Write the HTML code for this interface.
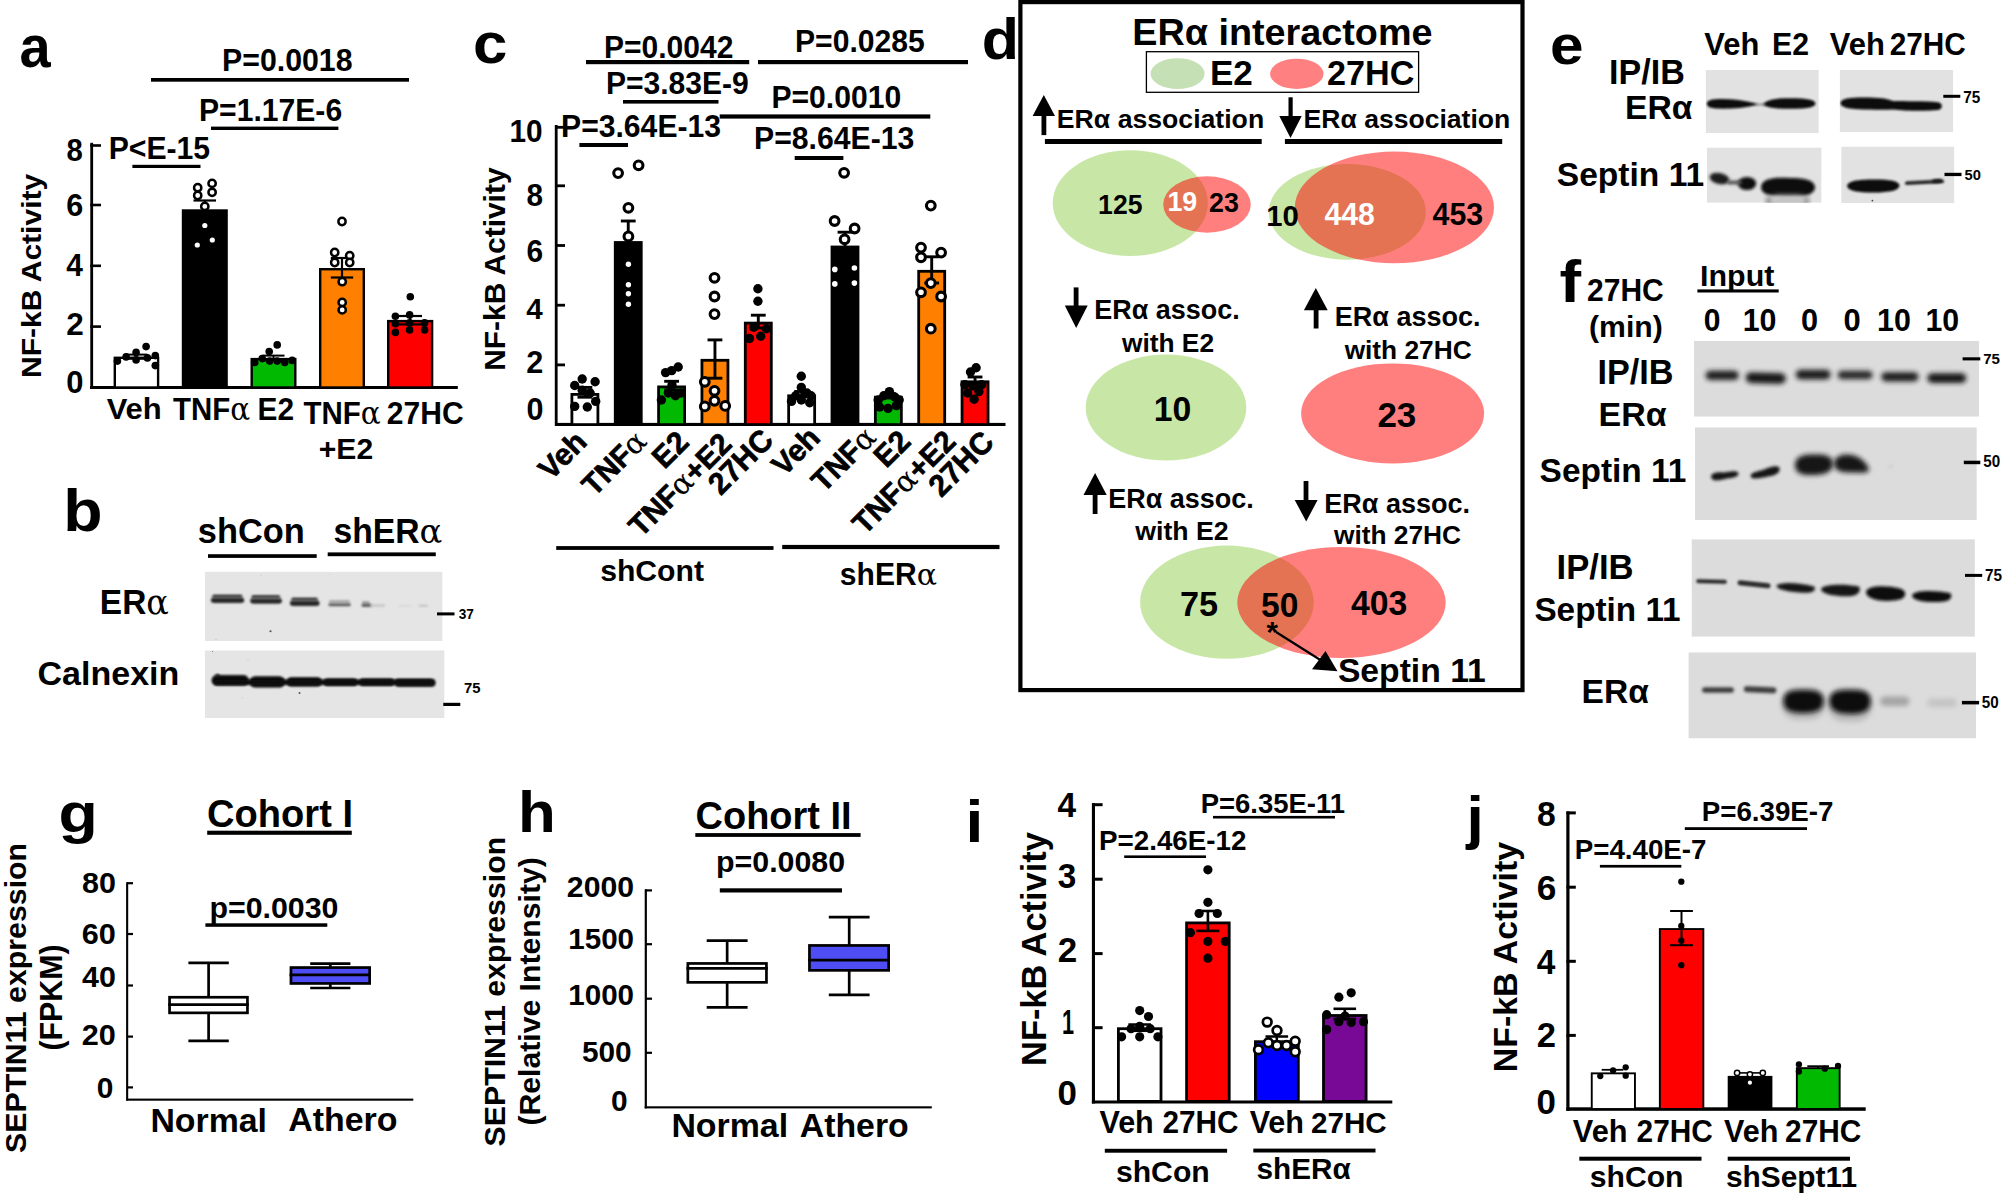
<!DOCTYPE html>
<html><head><meta charset="utf-8"><title>Figure</title>
<style>
html,body{margin:0;padding:0;background:#fff;}
body{width:2002px;height:1199px;overflow:hidden;}
svg{display:block;}
text{font-family:"Liberation Sans",Arial,Helvetica,sans-serif;font-weight:bold;}
.sy{font-family:"DejaVu Serif","Liberation Serif",serif;font-weight:normal;}
</style></head><body>
<svg width="2002" height="1199" viewBox="0 0 2002 1199">
<defs>
<filter id="bl1" x="-40%" y="-300%" width="180%" height="700%"><feGaussianBlur stdDeviation="1.1"/></filter>
<filter id="bl2" x="-40%" y="-300%" width="180%" height="700%"><feGaussianBlur stdDeviation="1.8"/></filter>
<filter id="bl3" x="-40%" y="-300%" width="180%" height="700%"><feGaussianBlur stdDeviation="2.6"/></filter>
<filter id="bl05" x="-40%" y="-300%" width="180%" height="700%"><feGaussianBlur stdDeviation="0.85"/></filter>
<filter id="bl0" x="-40%" y="-300%" width="180%" height="700%"><feGaussianBlur stdDeviation="0.6"/></filter>
</defs>
<rect width="2002" height="1199" fill="#fff"/>
<g id="pa">
<text x="19.52" y="67.00" font-size="59.26" textLength="31.19" lengthAdjust="spacingAndGlyphs" fill="#000">a</text>
<text x="222.03" y="70.70" font-size="31.03" textLength="130.47" lengthAdjust="spacingAndGlyphs" fill="#000">P=0.0018</text>
<rect x="151.00" y="78.00" width="258.00" height="3.70" fill="#000"/>
<text x="199.04" y="120.60" font-size="30.86" textLength="143.12" lengthAdjust="spacingAndGlyphs" fill="#000">P=1.17E-6</text>
<rect x="211.00" y="126.60" width="127.40" height="3.40" fill="#000"/>
<text x="108.64" y="158.60" font-size="30.94" textLength="101.52" lengthAdjust="spacingAndGlyphs" fill="#000">P&lt;E-15</text>
<rect x="132.40" y="164.80" width="68.10" height="3.20" fill="#000"/>
<rect x="90.00" y="386.00" width="367.80" height="3.00" fill="#000"/>
<rect x="90.30" y="142.80" width="2.80" height="246.20" fill="#000"/>
<rect x="90.30" y="325.30" width="10.70" height="2.60" fill="#000"/>
<rect x="90.30" y="264.50" width="10.70" height="2.60" fill="#000"/>
<rect x="90.30" y="203.70" width="10.70" height="2.60" fill="#000"/>
<rect x="90.30" y="144.20" width="10.70" height="2.60" fill="#000"/>
<text x="66.52" y="160.60" font-size="31.71" textLength="16.29" lengthAdjust="spacingAndGlyphs" fill="#000">8</text>
<text x="66.33" y="216.00" font-size="31.71" textLength="16.97" lengthAdjust="spacingAndGlyphs" fill="#000">6</text>
<text x="66.25" y="276.10" font-size="32.17" textLength="16.63" lengthAdjust="spacingAndGlyphs" fill="#000">4</text>
<text x="66.30" y="335.00" font-size="31.71" textLength="17.50" lengthAdjust="spacingAndGlyphs" fill="#000">2</text>
<text x="66.36" y="392.60" font-size="31.71" textLength="17.21" lengthAdjust="spacingAndGlyphs" fill="#000">0</text>
<text transform="translate(41.40,377.95) rotate(-90)" font-size="27.86" textLength="204.18" lengthAdjust="spacingAndGlyphs" fill="#000">NF-kB Activity</text>
<rect x="114.80" y="357.80" width="43.30" height="29.70" fill="#fff" stroke="#000" stroke-width="2.4"/>
<rect x="183.00" y="210.50" width="43.60" height="177.00" fill="#000" stroke="#000" stroke-width="2.4"/>
<rect x="251.70" y="359.10" width="43.60" height="28.40" fill="#00b900" stroke="#000" stroke-width="2.4"/>
<rect x="320.20" y="269.20" width="43.60" height="118.30" fill="#ff8000" stroke="#000" stroke-width="2.4"/>
<rect x="388.20" y="321.10" width="43.90" height="66.40" fill="#ff0000" stroke="#000" stroke-width="2.4"/>
<line x1="136.40" y1="354.60" x2="136.40" y2="358.80" stroke="#000" stroke-width="2" stroke-linecap="butt"/>
<line x1="125.40" y1="354.60" x2="147.40" y2="354.60" stroke="#000" stroke-width="2" stroke-linecap="butt"/>
<line x1="125.40" y1="358.80" x2="147.40" y2="358.80" stroke="#000" stroke-width="2" stroke-linecap="butt"/>
<line x1="204.80" y1="200.50" x2="204.80" y2="210.00" stroke="#000" stroke-width="2.2" stroke-linecap="butt"/>
<line x1="193.50" y1="200.50" x2="216.00" y2="200.50" stroke="#000" stroke-width="2.2" stroke-linecap="butt"/>
<line x1="273.50" y1="355.60" x2="273.50" y2="360.50" stroke="#000" stroke-width="2" stroke-linecap="butt"/>
<line x1="262.50" y1="355.60" x2="284.50" y2="355.60" stroke="#000" stroke-width="2" stroke-linecap="butt"/>
<line x1="262.50" y1="360.50" x2="284.50" y2="360.50" stroke="#000" stroke-width="2" stroke-linecap="butt"/>
<line x1="342.00" y1="258.00" x2="342.00" y2="277.50" stroke="#000" stroke-width="2.2" stroke-linecap="butt"/>
<line x1="330.80" y1="258.00" x2="353.20" y2="258.00" stroke="#000" stroke-width="2.2" stroke-linecap="butt"/>
<line x1="330.80" y1="277.50" x2="353.20" y2="277.50" stroke="#000" stroke-width="2.2" stroke-linecap="butt"/>
<line x1="410.20" y1="316.00" x2="410.20" y2="324.40" stroke="#000" stroke-width="2.2" stroke-linecap="butt"/>
<line x1="398.40" y1="316.00" x2="422.00" y2="316.00" stroke="#000" stroke-width="2.2" stroke-linecap="butt"/>
<line x1="398.40" y1="324.40" x2="422.00" y2="324.40" stroke="#000" stroke-width="2.2" stroke-linecap="butt"/>
<circle cx="117.4" cy="361.1" r="3.8" fill="#000"/>
<circle cx="126.1" cy="356.9" r="3.8" fill="#000"/>
<circle cx="136.1" cy="352.4" r="3.8" fill="#000"/>
<circle cx="136.1" cy="359.9" r="3.8" fill="#000"/>
<circle cx="146.1" cy="346.6" r="3.8" fill="#000"/>
<circle cx="147.4" cy="357.9" r="3.8" fill="#000"/>
<circle cx="155.3" cy="355.6" r="3.8" fill="#000"/>
<circle cx="155.3" cy="365.6" r="3.8" fill="#000"/>
<circle cx="197.7" cy="187.7" r="3.6500000000000004" fill="#fff" stroke="#000" stroke-width="2.5"/>
<circle cx="212.1" cy="183.4" r="3.6500000000000004" fill="#fff" stroke="#000" stroke-width="2.5"/>
<circle cx="197.7" cy="195.5" r="3.6500000000000004" fill="#fff" stroke="#000" stroke-width="2.5"/>
<circle cx="212.1" cy="192.3" r="3.6500000000000004" fill="#fff" stroke="#000" stroke-width="2.5"/>
<circle cx="204.8" cy="206.4" r="3.6500000000000004" fill="#fff" stroke="#000" stroke-width="2.5"/>
<circle cx="204.8" cy="225.5" r="2.6" fill="#fff"/>
<circle cx="212.3" cy="240.0" r="2.6" fill="#fff"/>
<circle cx="197.3" cy="245.0" r="2.6" fill="#fff"/>
<circle cx="254.7" cy="362.4" r="3.8" fill="#000"/>
<circle cx="262.2" cy="358.6" r="3.8" fill="#000"/>
<circle cx="269.2" cy="351.6" r="3.8" fill="#000"/>
<circle cx="269.7" cy="361.1" r="3.8" fill="#000"/>
<circle cx="277.2" cy="344.9" r="3.8" fill="#000"/>
<circle cx="277.2" cy="361.1" r="3.8" fill="#000"/>
<circle cx="284.7" cy="362.4" r="3.8" fill="#000"/>
<circle cx="292.2" cy="360.4" r="3.8" fill="#000"/>
<circle cx="342.0" cy="221.5" r="3.6500000000000004" fill="#fff" stroke="#000" stroke-width="2.5"/>
<circle cx="334.7" cy="252.5" r="3.6500000000000004" fill="#fff" stroke="#000" stroke-width="2.5"/>
<circle cx="349.7" cy="255.7" r="3.6500000000000004" fill="#fff" stroke="#000" stroke-width="2.5"/>
<circle cx="334.7" cy="262.5" r="3.6500000000000004" fill="#fff" stroke="#000" stroke-width="2.5"/>
<circle cx="349.7" cy="262.5" r="3.6500000000000004" fill="#fff" stroke="#000" stroke-width="2.5"/>
<circle cx="342.2" cy="281.7" r="3.6500000000000004" fill="#fff" stroke="#000" stroke-width="2.5"/>
<circle cx="342.2" cy="302.4" r="3.6500000000000004" fill="#fff" stroke="#000" stroke-width="2.5"/>
<circle cx="342.2" cy="309.9" r="3.6500000000000004" fill="#fff" stroke="#000" stroke-width="2.5"/>
<circle cx="410.3" cy="296.7" r="3.8" fill="#000"/>
<circle cx="395.4" cy="316.2" r="3.8" fill="#000"/>
<circle cx="409.6" cy="314.9" r="3.8" fill="#000"/>
<circle cx="395.4" cy="323.7" r="3.8" fill="#000"/>
<circle cx="409.6" cy="322.9" r="3.8" fill="#000"/>
<circle cx="424.6" cy="322.9" r="3.8" fill="#000"/>
<circle cx="395.4" cy="332.4" r="3.8" fill="#000"/>
<circle cx="409.6" cy="329.9" r="3.8" fill="#000"/>
<circle cx="424.6" cy="329.9" r="3.8" fill="#000"/>
<text x="106.65" y="419.00" font-size="30.07" textLength="55.08" lengthAdjust="spacingAndGlyphs" fill="#000">Veh</text>
<text x="173.10" y="419.70" font-size="31.16" textLength="77.06" lengthAdjust="spacingAndGlyphs" fill="#000">TNF<tspan class="sy">α</tspan></text>
<text x="257.56" y="419.70" font-size="30.43" textLength="36.53" lengthAdjust="spacingAndGlyphs" fill="#000">E2</text>
<text x="303.50" y="423.50" font-size="31.16" textLength="77.16" lengthAdjust="spacingAndGlyphs" fill="#000">TNF<tspan class="sy">α</tspan></text>
<text x="386.85" y="423.50" font-size="31.00" textLength="76.75" lengthAdjust="spacingAndGlyphs" fill="#000">27HC</text>
<text x="318.80" y="458.90" font-size="29.86" textLength="54.37" lengthAdjust="spacingAndGlyphs" fill="#000">+E2</text>
</g>
<g id="pb">
<text x="63.22" y="531.00" font-size="58.34" textLength="39.31" lengthAdjust="spacingAndGlyphs" fill="#000">b</text>
<text x="197.80" y="542.60" font-size="34.39" textLength="107.00" lengthAdjust="spacingAndGlyphs" fill="#000">shCon</text>
<text x="333.50" y="542.60" font-size="34.34" textLength="108.88" lengthAdjust="spacingAndGlyphs" fill="#000">shER<tspan class="sy">α</tspan></text>
<rect x="208.00" y="554.20" width="108.70" height="3.70" fill="#000"/>
<rect x="327.70" y="552.40" width="108.10" height="3.80" fill="#000"/>
<text x="99.86" y="613.80" font-size="34.46" textLength="69.05" lengthAdjust="spacingAndGlyphs" fill="#000">ER<tspan class="sy">α</tspan></text>
<text x="37.54" y="685.20" font-size="34.02" textLength="141.81" lengthAdjust="spacingAndGlyphs" fill="#000">Calnexin</text>
<clipPath id="cp1"><rect x="204.8" y="571.6" width="237.8" height="69.4"/></clipPath>
<g clip-path="url(#cp1)">
<rect x="204.80" y="571.60" width="237.80" height="69.40" fill="#e5e5e5"/>
<rect x="211.5" y="595.1" width="31.7" height="7.5" rx="3.8" fill="#9c9c9c" filter="url(#bl1)"/>
<rect x="212.5" y="594.7" width="29.7" height="2.8" rx="1.4" fill="#3e3e3e" filter="url(#bl05)"/>
<rect x="211.0" y="598.1" width="33.2" height="4.7" rx="2.4" fill="#282828" filter="url(#bl05)"/>
<rect x="250.7" y="595.7" width="30.3" height="7.5" rx="3.8" fill="#9c9c9c" filter="url(#bl1)"/>
<rect x="251.7" y="595.3" width="28.3" height="2.8" rx="1.4" fill="#3e3e3e" filter="url(#bl05)"/>
<rect x="250.2" y="598.7" width="31.8" height="4.7" rx="2.4" fill="#282828" filter="url(#bl05)"/>
<rect x="290.5" y="598.1" width="28.1" height="7.5" rx="3.8" fill="#9c9c9c" filter="url(#bl1)"/>
<rect x="291.5" y="597.7" width="26.1" height="2.8" rx="1.4" fill="#3e3e3e" filter="url(#bl05)"/>
<rect x="290.0" y="601.1" width="29.6" height="4.7" rx="2.4" fill="#282828" filter="url(#bl05)"/>
<rect x="329.0" y="600.4" width="21.0" height="2.0" rx="1.0" fill="#909090" filter="url(#bl1)"/>
<rect x="328.4" y="603.2" width="22.4" height="3.0" rx="1.5" fill="#5c5c5c" filter="url(#bl1)"/>
<rect x="362.0" y="601.6" width="7.5" height="2.0" rx="1.0" fill="#8a8a8a" filter="url(#bl1)"/>
<rect x="361.5" y="603.6" width="10.0" height="3.4" rx="1.7" fill="#5e5e5e" filter="url(#bl1)"/>
<rect x="370.0" y="604.6" width="15.0" height="1.8" rx="0.9" fill="#bdbdbd" filter="url(#bl1)"/>
<rect x="398.0" y="605.0" width="14.0" height="1.6" rx="0.8" fill="#d6d6d6" filter="url(#bl1)"/>
<rect x="418.5" y="604.8" width="9.5" height="2.0" rx="1.0" fill="#c2c2c2" filter="url(#bl1)"/>
<ellipse cx="270.5" cy="631.2" rx="1.1" ry="1.0" fill="#555" filter="url(#bl0)"/>
<ellipse cx="216.0" cy="639.5" rx="0.8" ry="0.6" fill="#c8c8c8" filter="url(#bl0)"/>
<ellipse cx="261.0" cy="575.5" rx="0.5" ry="0.5" fill="#c0c0c0" filter="url(#bl0)"/>
<ellipse cx="330.0" cy="574.5" rx="0.5" ry="0.5" fill="#c4c4c4" filter="url(#bl0)"/>
</g>
<clipPath id="cp2"><rect x="204.8" y="650.3" width="239.8" height="67.7"/></clipPath>
<g clip-path="url(#cp2)">
<rect x="204.80" y="650.30" width="239.80" height="67.70" fill="#e5e5e5"/>
<rect x="211.6" y="675.0" width="37.2" height="10.4" rx="5.2" fill="#080808" filter="url(#bl1)"/>
<rect x="249.6" y="676.2" width="35.4" height="11.4" rx="5.7" fill="#080808" filter="url(#bl1)"/>
<rect x="286.8" y="677.2" width="35.1" height="9.3" rx="4.6" fill="#080808" filter="url(#bl1)"/>
<rect x="323.7" y="678.6" width="33.7" height="7.5" rx="3.8" fill="#080808" filter="url(#bl1)"/>
<rect x="359.2" y="678.6" width="35.2" height="7.5" rx="3.8" fill="#080808" filter="url(#bl1)"/>
<rect x="394.7" y="678.7" width="40.9" height="8.1" rx="4.0" fill="#080808" filter="url(#bl1)"/>
<rect x="214.0" y="679.6" width="219.0" height="5.4" rx="2.7" fill="#0c0c0c" filter="url(#bl1)"/>
<ellipse cx="217.5" cy="675.5" rx="2.2" ry="1.6" fill="#1a1a1a" filter="url(#bl1)"/>
<ellipse cx="299.5" cy="693.0" rx="1.0" ry="0.9" fill="#555" filter="url(#bl0)"/>
<ellipse cx="212.5" cy="651.5" rx="0.6" ry="0.6" fill="#777" filter="url(#bl0)"/>
<ellipse cx="248.0" cy="660.5" rx="0.6" ry="0.5" fill="#bbb" filter="url(#bl0)"/>
<ellipse cx="242.5" cy="698.0" rx="0.6" ry="0.5" fill="#c4c4c4" filter="url(#bl0)"/>
</g>
<rect x="437.00" y="612.40" width="17.50" height="3.00" fill="#000"/>
<text x="458.66" y="619.40" font-size="14.03" textLength="15.22" lengthAdjust="spacingAndGlyphs" fill="#000">37</text>
<text x="463.91" y="692.80" font-size="15.20" textLength="16.50" lengthAdjust="spacingAndGlyphs" fill="#000">75</text>
<rect x="443.30" y="702.80" width="17.00" height="3.20" fill="#000"/>
</g>
<g id="pc">
<text x="473.03" y="63.20" font-size="56.85" textLength="34.40" lengthAdjust="spacingAndGlyphs" fill="#000">c</text>
<text x="604.05" y="58.00" font-size="30.76" textLength="129.34" lengthAdjust="spacingAndGlyphs" fill="#000">P=0.0042</text>
<rect x="586.00" y="60.00" width="163.20" height="4.20" fill="#000"/>
<text x="795.04" y="51.70" font-size="30.85" textLength="129.70" lengthAdjust="spacingAndGlyphs" fill="#000">P=0.0285</text>
<rect x="758.00" y="60.00" width="210.00" height="4.20" fill="#000"/>
<text x="605.95" y="93.70" font-size="30.82" textLength="142.91" lengthAdjust="spacingAndGlyphs" fill="#000">P=3.83E-9</text>
<rect x="623.00" y="100.00" width="95.50" height="3.60" fill="#000"/>
<text x="771.44" y="107.90" font-size="30.86" textLength="129.75" lengthAdjust="spacingAndGlyphs" fill="#000">P=0.0010</text>
<rect x="719.70" y="114.40" width="210.60" height="4.20" fill="#000"/>
<text x="561.04" y="136.60" font-size="30.89" textLength="160.01" lengthAdjust="spacingAndGlyphs" fill="#000">P=3.64E-13</text>
<rect x="579.40" y="143.00" width="48.60" height="4.00" fill="#000"/>
<text x="754.04" y="149.40" font-size="30.95" textLength="160.31" lengthAdjust="spacingAndGlyphs" fill="#000">P=8.64E-13</text>
<rect x="794.70" y="156.00" width="48.70" height="4.00" fill="#000"/>
<rect x="555.10" y="422.90" width="450.40" height="3.10" fill="#000"/>
<rect x="554.80" y="125.00" width="2.80" height="301.00" fill="#000"/>
<rect x="555.00" y="363.50" width="10.00" height="2.80" fill="#000"/>
<rect x="555.00" y="303.80" width="10.00" height="2.80" fill="#000"/>
<rect x="555.00" y="244.10" width="10.00" height="2.80" fill="#000"/>
<rect x="555.00" y="184.40" width="10.00" height="2.80" fill="#000"/>
<rect x="555.00" y="125.90" width="10.00" height="2.80" fill="#000"/>
<text x="509.51" y="142.30" font-size="30.55" textLength="33.15" lengthAdjust="spacingAndGlyphs" fill="#000">10</text>
<text x="526.51" y="205.60" font-size="30.44" textLength="16.52" lengthAdjust="spacingAndGlyphs" fill="#000">8</text>
<text x="526.55" y="261.60" font-size="30.64" textLength="16.63" lengthAdjust="spacingAndGlyphs" fill="#000">6</text>
<text x="526.26" y="318.60" font-size="30.27" textLength="16.43" lengthAdjust="spacingAndGlyphs" fill="#000">4</text>
<text x="526.33" y="373.40" font-size="31.39" textLength="17.03" lengthAdjust="spacingAndGlyphs" fill="#000">2</text>
<text x="526.38" y="419.90" font-size="31.29" textLength="16.98" lengthAdjust="spacingAndGlyphs" fill="#000">0</text>
<text transform="translate(505.40,370.84) rotate(-90)" font-size="29.92" textLength="203.37" lengthAdjust="spacingAndGlyphs" fill="#000">NF-kB Activity</text>
<rect x="571.90" y="394.40" width="26.00" height="30.20" fill="#fff" stroke="#000" stroke-width="2.8"/>
<rect x="615.25" y="242.50" width="26.00" height="182.10" fill="#000" stroke="#000" stroke-width="2.8"/>
<rect x="658.60" y="386.90" width="26.00" height="37.70" fill="#00b900" stroke="#000" stroke-width="2.8"/>
<rect x="701.95" y="360.30" width="26.00" height="64.30" fill="#ff8000" stroke="#000" stroke-width="2.8"/>
<rect x="745.30" y="323.10" width="26.00" height="101.50" fill="#ff0000" stroke="#000" stroke-width="2.8"/>
<rect x="788.65" y="395.80" width="26.00" height="28.80" fill="#fff" stroke="#000" stroke-width="2.8"/>
<rect x="832.00" y="247.00" width="26.00" height="177.60" fill="#000" stroke="#000" stroke-width="2.8"/>
<rect x="875.35" y="397.20" width="26.00" height="27.40" fill="#00b900" stroke="#000" stroke-width="2.8"/>
<rect x="918.70" y="271.30" width="26.00" height="153.30" fill="#ff8000" stroke="#000" stroke-width="2.8"/>
<rect x="962.05" y="381.80" width="26.00" height="42.80" fill="#ff0000" stroke="#000" stroke-width="2.8"/>
<line x1="584.90" y1="387.40" x2="584.90" y2="397.20" stroke="#000" stroke-width="2.9" stroke-linecap="butt"/>
<line x1="577.50" y1="387.40" x2="592.30" y2="387.40" stroke="#000" stroke-width="2.9" stroke-linecap="butt"/>
<line x1="577.50" y1="397.20" x2="592.30" y2="397.20" stroke="#000" stroke-width="2.9" stroke-linecap="butt"/>
<line x1="628.25" y1="221.00" x2="628.25" y2="243.00" stroke="#000" stroke-width="2.9" stroke-linecap="butt"/>
<line x1="620.85" y1="221.00" x2="635.65" y2="221.00" stroke="#000" stroke-width="2.9" stroke-linecap="butt"/>
<line x1="671.60" y1="381.30" x2="671.60" y2="390.00" stroke="#000" stroke-width="2.9" stroke-linecap="butt"/>
<line x1="664.20" y1="381.30" x2="679.00" y2="381.30" stroke="#000" stroke-width="2.9" stroke-linecap="butt"/>
<line x1="664.20" y1="390.00" x2="679.00" y2="390.00" stroke="#000" stroke-width="2.9" stroke-linecap="butt"/>
<line x1="714.95" y1="339.90" x2="714.95" y2="378.20" stroke="#000" stroke-width="2.9" stroke-linecap="butt"/>
<line x1="707.55" y1="339.90" x2="722.35" y2="339.90" stroke="#000" stroke-width="2.9" stroke-linecap="butt"/>
<line x1="707.55" y1="378.20" x2="722.35" y2="378.20" stroke="#000" stroke-width="2.9" stroke-linecap="butt"/>
<line x1="758.30" y1="315.20" x2="758.30" y2="328.00" stroke="#000" stroke-width="2.9" stroke-linecap="butt"/>
<line x1="750.90" y1="315.20" x2="765.70" y2="315.20" stroke="#000" stroke-width="2.9" stroke-linecap="butt"/>
<line x1="750.90" y1="328.00" x2="765.70" y2="328.00" stroke="#000" stroke-width="2.9" stroke-linecap="butt"/>
<line x1="801.65" y1="391.50" x2="801.65" y2="397.00" stroke="#000" stroke-width="2.9" stroke-linecap="butt"/>
<line x1="794.25" y1="391.50" x2="809.05" y2="391.50" stroke="#000" stroke-width="2.9" stroke-linecap="butt"/>
<line x1="794.25" y1="397.00" x2="809.05" y2="397.00" stroke="#000" stroke-width="2.9" stroke-linecap="butt"/>
<line x1="845.00" y1="232.20" x2="845.00" y2="247.00" stroke="#000" stroke-width="2.9" stroke-linecap="butt"/>
<line x1="837.60" y1="232.20" x2="852.40" y2="232.20" stroke="#000" stroke-width="2.9" stroke-linecap="butt"/>
<line x1="888.35" y1="393.50" x2="888.35" y2="398.00" stroke="#000" stroke-width="2.9" stroke-linecap="butt"/>
<line x1="880.95" y1="393.50" x2="895.75" y2="393.50" stroke="#000" stroke-width="2.9" stroke-linecap="butt"/>
<line x1="880.95" y1="398.00" x2="895.75" y2="398.00" stroke="#000" stroke-width="2.9" stroke-linecap="butt"/>
<line x1="931.70" y1="256.80" x2="931.70" y2="283.00" stroke="#000" stroke-width="2.9" stroke-linecap="butt"/>
<line x1="924.30" y1="256.80" x2="939.10" y2="256.80" stroke="#000" stroke-width="2.9" stroke-linecap="butt"/>
<line x1="924.30" y1="283.00" x2="939.10" y2="283.00" stroke="#000" stroke-width="2.9" stroke-linecap="butt"/>
<line x1="975.05" y1="377.00" x2="975.05" y2="384.00" stroke="#000" stroke-width="2.9" stroke-linecap="butt"/>
<line x1="967.65" y1="377.00" x2="982.45" y2="377.00" stroke="#000" stroke-width="2.9" stroke-linecap="butt"/>
<line x1="967.65" y1="384.00" x2="982.45" y2="384.00" stroke="#000" stroke-width="2.9" stroke-linecap="butt"/>
<circle cx="574.7" cy="385.5" r="4.7" fill="#000"/>
<circle cx="582.2" cy="379.0" r="4.7" fill="#000"/>
<circle cx="595.1" cy="381.8" r="4.7" fill="#000"/>
<circle cx="582.2" cy="390.2" r="4.7" fill="#000"/>
<circle cx="590.1" cy="393.0" r="4.7" fill="#000"/>
<circle cx="574.7" cy="406.4" r="4.7" fill="#000"/>
<circle cx="587.3" cy="407.0" r="4.7" fill="#000"/>
<circle cx="595.7" cy="401.4" r="4.7" fill="#000"/>
<circle cx="618.1" cy="173.1" r="4.3500000000000005" fill="#fff" stroke="#000" stroke-width="3.1"/>
<circle cx="638.6" cy="165.3" r="4.3500000000000005" fill="#fff" stroke="#000" stroke-width="3.1"/>
<circle cx="628.4" cy="207.8" r="4.3500000000000005" fill="#fff" stroke="#000" stroke-width="3.1"/>
<circle cx="628.4" cy="236.4" r="4.3500000000000005" fill="#fff" stroke="#000" stroke-width="3.1"/>
<circle cx="628.4" cy="264.3" r="2.7" fill="#fff"/>
<circle cx="628.4" cy="284.8" r="2.7" fill="#fff"/>
<circle cx="628.4" cy="293.7" r="2.7" fill="#fff"/>
<circle cx="628.4" cy="304.3" r="2.7" fill="#fff"/>
<circle cx="665.6" cy="372.6" r="4.7" fill="#000"/>
<circle cx="671.7" cy="370.6" r="4.7" fill="#000"/>
<circle cx="678.2" cy="367.0" r="4.7" fill="#000"/>
<circle cx="661.4" cy="400.0" r="4.7" fill="#000"/>
<circle cx="668.4" cy="393.0" r="4.7" fill="#000"/>
<circle cx="675.4" cy="395.8" r="4.7" fill="#000"/>
<circle cx="681.0" cy="393.0" r="4.7" fill="#000"/>
<circle cx="672.0" cy="385.0" r="4.7" fill="#000"/>
<circle cx="714.5" cy="277.8" r="4.3500000000000005" fill="#fff" stroke="#000" stroke-width="3.1"/>
<circle cx="714.5" cy="296.5" r="4.3500000000000005" fill="#fff" stroke="#000" stroke-width="3.1"/>
<circle cx="714.5" cy="314.1" r="4.3500000000000005" fill="#fff" stroke="#000" stroke-width="3.1"/>
<circle cx="704.8" cy="381.8" r="4.3500000000000005" fill="#fff" stroke="#000" stroke-width="3.1"/>
<circle cx="714.5" cy="390.8" r="4.3500000000000005" fill="#fff" stroke="#000" stroke-width="3.1"/>
<circle cx="714.5" cy="400.8" r="4.3500000000000005" fill="#fff" stroke="#000" stroke-width="3.1"/>
<circle cx="704.8" cy="406.4" r="4.3500000000000005" fill="#fff" stroke="#000" stroke-width="3.1"/>
<circle cx="725.2" cy="405.9" r="4.3500000000000005" fill="#fff" stroke="#000" stroke-width="3.1"/>
<circle cx="757.9" cy="288.7" r="4.7" fill="#000"/>
<circle cx="757.9" cy="301.3" r="4.7" fill="#000"/>
<circle cx="749.5" cy="338.5" r="4.7" fill="#000"/>
<circle cx="760.7" cy="336.2" r="4.7" fill="#000"/>
<circle cx="766.3" cy="328.7" r="4.7" fill="#000"/>
<circle cx="753.7" cy="327.3" r="4.7" fill="#000"/>
<circle cx="801.3" cy="376.2" r="4.7" fill="#000"/>
<circle cx="791.5" cy="401.4" r="4.7" fill="#000"/>
<circle cx="795.7" cy="395.8" r="4.7" fill="#000"/>
<circle cx="801.3" cy="387.4" r="4.7" fill="#000"/>
<circle cx="806.9" cy="393.0" r="4.7" fill="#000"/>
<circle cx="811.0" cy="395.8" r="4.7" fill="#000"/>
<circle cx="801.3" cy="400.0" r="4.7" fill="#000"/>
<circle cx="809.7" cy="402.8" r="4.7" fill="#000"/>
<circle cx="844.1" cy="172.8" r="4.3500000000000005" fill="#fff" stroke="#000" stroke-width="3.1"/>
<circle cx="834.6" cy="221.0" r="4.3500000000000005" fill="#fff" stroke="#000" stroke-width="3.1"/>
<circle cx="854.6" cy="228.5" r="4.3500000000000005" fill="#fff" stroke="#000" stroke-width="3.1"/>
<circle cx="844.6" cy="239.3" r="4.3500000000000005" fill="#fff" stroke="#000" stroke-width="3.1"/>
<circle cx="834.8" cy="269.4" r="2.8" fill="#fff"/>
<circle cx="854.4" cy="268.0" r="2.8" fill="#fff"/>
<circle cx="834.8" cy="283.9" r="2.8" fill="#fff"/>
<circle cx="854.4" cy="283.1" r="2.8" fill="#fff"/>
<circle cx="878.2" cy="400.0" r="4.7" fill="#000"/>
<circle cx="883.8" cy="395.8" r="4.7" fill="#000"/>
<circle cx="889.4" cy="391.6" r="4.7" fill="#000"/>
<circle cx="895.0" cy="397.2" r="4.7" fill="#000"/>
<circle cx="899.2" cy="400.0" r="4.7" fill="#000"/>
<circle cx="879.6" cy="407.0" r="4.7" fill="#000"/>
<circle cx="888.0" cy="408.4" r="4.7" fill="#000"/>
<circle cx="896.4" cy="405.6" r="4.7" fill="#000"/>
<circle cx="930.8" cy="205.6" r="4.3500000000000005" fill="#fff" stroke="#000" stroke-width="3.1"/>
<circle cx="921.0" cy="247.6" r="4.3500000000000005" fill="#fff" stroke="#000" stroke-width="3.1"/>
<circle cx="941.1" cy="252.6" r="4.3500000000000005" fill="#fff" stroke="#000" stroke-width="3.1"/>
<circle cx="921.0" cy="257.3" r="4.3500000000000005" fill="#fff" stroke="#000" stroke-width="3.1"/>
<circle cx="930.8" cy="283.1" r="4.3500000000000005" fill="#fff" stroke="#000" stroke-width="3.1"/>
<circle cx="921.0" cy="292.3" r="4.3500000000000005" fill="#fff" stroke="#000" stroke-width="3.1"/>
<circle cx="941.1" cy="296.5" r="4.3500000000000005" fill="#fff" stroke="#000" stroke-width="3.1"/>
<circle cx="930.8" cy="328.7" r="4.3500000000000005" fill="#fff" stroke="#000" stroke-width="3.1"/>
<circle cx="976.1" cy="367.8" r="4.7" fill="#000"/>
<circle cx="970.5" cy="372.0" r="4.7" fill="#000"/>
<circle cx="964.9" cy="384.6" r="4.7" fill="#000"/>
<circle cx="973.3" cy="386.0" r="4.7" fill="#000"/>
<circle cx="981.7" cy="384.6" r="4.7" fill="#000"/>
<circle cx="967.7" cy="393.0" r="4.7" fill="#000"/>
<circle cx="978.9" cy="391.6" r="4.7" fill="#000"/>
<circle cx="974.1" cy="399.2" r="4.7" fill="#000"/>
<text transform="translate(588.50,443.50) rotate(-45)" x="-53.37" y="0" font-size="30.00" textLength="53.37" lengthAdjust="spacingAndGlyphs" fill="#000" stroke="#000" stroke-width="0.7" stroke-linejoin="round">Veh</text>
<text transform="translate(648.60,443.00) rotate(-45)" x="-76.76" y="0" font-size="30.00" textLength="76.76" lengthAdjust="spacingAndGlyphs" fill="#000" stroke="#000" stroke-width="0.7" stroke-linejoin="round">TNF<tspan class="sy" stroke-width="0.15">α</tspan></text>
<text transform="translate(690.50,444.00) rotate(-45)" x="-36.70" y="0" font-size="30.75" textLength="36.70" lengthAdjust="spacingAndGlyphs" fill="#000" stroke="#000" stroke-width="0.7" stroke-linejoin="round">E2</text>
<text transform="translate(733.50,445.60) rotate(-45)" x="-130.98" y="0" font-size="30.00" textLength="130.98" lengthAdjust="spacingAndGlyphs" fill="#000" stroke="#000" stroke-width="0.7" stroke-linejoin="round">TNF<tspan class="sy" stroke-width="0.15">α</tspan>+E2</text>
<text transform="translate(775.00,442.00) rotate(-45)" x="-76.70" y="0" font-size="30.75" textLength="76.70" lengthAdjust="spacingAndGlyphs" fill="#000" stroke="#000" stroke-width="0.7" stroke-linejoin="round">27HC</text>
<text transform="translate(821.80,439.50) rotate(-45)" x="-53.37" y="0" font-size="30.00" textLength="53.37" lengthAdjust="spacingAndGlyphs" fill="#000" stroke="#000" stroke-width="0.7" stroke-linejoin="round">Veh</text>
<text transform="translate(878.00,439.00) rotate(-45)" x="-76.76" y="0" font-size="30.00" textLength="76.76" lengthAdjust="spacingAndGlyphs" fill="#000" stroke="#000" stroke-width="0.7" stroke-linejoin="round">TNF<tspan class="sy" stroke-width="0.15">α</tspan></text>
<text transform="translate(912.30,443.10) rotate(-45)" x="-36.70" y="0" font-size="30.75" textLength="36.70" lengthAdjust="spacingAndGlyphs" fill="#000" stroke="#000" stroke-width="0.7" stroke-linejoin="round">E2</text>
<text transform="translate(957.30,443.10) rotate(-45)" x="-130.98" y="0" font-size="30.00" textLength="130.98" lengthAdjust="spacingAndGlyphs" fill="#000" stroke="#000" stroke-width="0.7" stroke-linejoin="round">TNF<tspan class="sy" stroke-width="0.15">α</tspan>+E2</text>
<text transform="translate(995.50,444.00) rotate(-45)" x="-76.70" y="0" font-size="30.75" textLength="76.70" lengthAdjust="spacingAndGlyphs" fill="#000" stroke="#000" stroke-width="0.7" stroke-linejoin="round">27HC</text>
<rect x="556.20" y="546.10" width="217.30" height="3.80" fill="#000"/>
<rect x="782.20" y="544.90" width="217.30" height="4.20" fill="#000"/>
<text x="600.14" y="581.10" font-size="30.16" textLength="103.88" lengthAdjust="spacingAndGlyphs" fill="#000">shCont</text>
<text x="839.83" y="584.80" font-size="30.62" textLength="97.11" lengthAdjust="spacingAndGlyphs" fill="#000">shER<tspan class="sy">α</tspan></text>
</g>
<g id="pd">
<text x="981.76" y="58.50" font-size="57.52" textLength="37.26" lengthAdjust="spacingAndGlyphs" fill="#000">d</text>
<rect x="1020.4" y="2.1" width="502.1" height="688" fill="none" stroke="#000" stroke-width="4.2"/>
<text x="1132.24" y="44.80" font-size="37.77" textLength="300.29" lengthAdjust="spacingAndGlyphs" fill="#000">ERα interactome</text>
<rect x="1146.4" y="51.7" width="272.2" height="40.6" fill="#fff" stroke="#000" stroke-width="1.3"/>
<ellipse cx="1177.6" cy="73.6" rx="27.0" ry="15.4" fill="#c5e0b4"/>
<text x="1209.92" y="85.30" font-size="35.94" textLength="42.89" lengthAdjust="spacingAndGlyphs" fill="#000">E2</text>
<ellipse cx="1296.8" cy="73.8" rx="26.7" ry="15.1" fill="#ff8080"/>
<text x="1327.10" y="85.30" font-size="35.04" textLength="87.41" lengthAdjust="spacingAndGlyphs" fill="#000">27HC</text>
<polygon points="1043.8,95.1 1055.0,116.0 1032.6,116.0" fill="#000"/>
<rect x="1041.50" y="115.00" width="4.80" height="20.10" fill="#000"/>
<text x="1056.87" y="127.70" font-size="26.63" textLength="207.30" lengthAdjust="spacingAndGlyphs" fill="#000">ERα association</text>
<rect x="1044.90" y="139.00" width="216.80" height="5.00" fill="#000"/>
<polygon points="1290.5,137.9 1301.7,116.0 1279.3,116.0" fill="#000"/>
<rect x="1288.50" y="97.30" width="4.20" height="19.70" fill="#000"/>
<text x="1303.57" y="127.70" font-size="26.55" textLength="206.69" lengthAdjust="spacingAndGlyphs" fill="#000">ERα association</text>
<rect x="1284.90" y="139.00" width="217.30" height="5.00" fill="#000"/>
<ellipse cx="1130.3" cy="203.1" rx="77.6" ry="52.9" fill="#92d050" fill-opacity="0.5"/>
<ellipse cx="1207.0" cy="204.5" rx="43.8" ry="28.2" fill="#ff0000" fill-opacity="0.5"/>
<text x="1098.11" y="213.80" font-size="27.25" textLength="44.35" lengthAdjust="spacingAndGlyphs" fill="#000">125</text>
<text x="1167.39" y="211.20" font-size="27.47" textLength="29.81" lengthAdjust="spacingAndGlyphs" fill="#fff">19</text>
<text x="1209.06" y="211.70" font-size="27.50" textLength="29.84" lengthAdjust="spacingAndGlyphs" fill="#000">23</text>
<ellipse cx="1347.3" cy="211.9" rx="78.6" ry="47.8" fill="#92d050" fill-opacity="0.5"/>
<ellipse cx="1394.4" cy="207.4" rx="99.6" ry="55.8" fill="#ff0000" fill-opacity="0.5"/>
<text x="1266.25" y="225.90" font-size="29.94" textLength="32.49" lengthAdjust="spacingAndGlyphs" fill="#000">10</text>
<text x="1324.45" y="224.50" font-size="30.94" textLength="50.36" lengthAdjust="spacingAndGlyphs" fill="#fff">448</text>
<text x="1432.54" y="224.50" font-size="31.10" textLength="50.62" lengthAdjust="spacingAndGlyphs" fill="#000">453</text>
<polygon points="1076.2,328.0 1087.7,305.6 1064.8,305.6" fill="#000"/>
<rect x="1073.70" y="287.40" width="4.80" height="19.20" fill="#000"/>
<text x="1094.35" y="319.30" font-size="26.96" textLength="145.44" lengthAdjust="spacingAndGlyphs" fill="#000">ERα assoc.</text>
<text x="1121.93" y="351.50" font-size="26.32" textLength="92.14" lengthAdjust="spacingAndGlyphs" fill="#000">with E2</text>
<ellipse cx="1166.0" cy="407.6" rx="80.3" ry="53.0" fill="#92d050" fill-opacity="0.5"/>
<text x="1153.67" y="420.80" font-size="34.61" textLength="37.56" lengthAdjust="spacingAndGlyphs" fill="#000">10</text>
<polygon points="1315.8,288.0 1327.7,310.3 1303.9,310.3" fill="#000"/>
<rect x="1313.70" y="309.30" width="4.80" height="19.20" fill="#000"/>
<text x="1334.84" y="325.70" font-size="27.02" textLength="145.75" lengthAdjust="spacingAndGlyphs" fill="#000">ERα assoc.</text>
<text x="1344.63" y="358.50" font-size="26.28" textLength="127.03" lengthAdjust="spacingAndGlyphs" fill="#000">with 27HC</text>
<ellipse cx="1392.6" cy="413.4" rx="91.5" ry="50.0" fill="#ff0000" fill-opacity="0.5"/>
<text x="1377.38" y="427.00" font-size="35.88" textLength="38.93" lengthAdjust="spacingAndGlyphs" fill="#000">23</text>
<polygon points="1095.1,473.1 1106.7,495.0 1083.5,495.0" fill="#000"/>
<rect x="1092.70" y="494.00" width="4.80" height="20.00" fill="#000"/>
<text x="1108.25" y="508.40" font-size="26.98" textLength="145.55" lengthAdjust="spacingAndGlyphs" fill="#000">ERα assoc.</text>
<text x="1135.33" y="540.20" font-size="26.67" textLength="93.35" lengthAdjust="spacingAndGlyphs" fill="#000">with E2</text>
<polygon points="1306.2,521.5 1317.6,500.0 1294.7,500.0" fill="#000"/>
<rect x="1303.60" y="481.00" width="4.80" height="20.00" fill="#000"/>
<text x="1324.24" y="512.60" font-size="27.02" textLength="145.75" lengthAdjust="spacingAndGlyphs" fill="#000">ERα assoc.</text>
<text x="1333.93" y="544.10" font-size="26.30" textLength="127.13" lengthAdjust="spacingAndGlyphs" fill="#000">with 27HC</text>
<ellipse cx="1226.9" cy="602.2" rx="86.8" ry="56.6" fill="#92d050" fill-opacity="0.5"/>
<ellipse cx="1341.5" cy="602.5" rx="104.2" ry="55.5" fill="#ff0000" fill-opacity="0.5"/>
<text x="1180.03" y="616.00" font-size="35.11" textLength="38.11" lengthAdjust="spacingAndGlyphs" fill="#000">75</text>
<text x="1260.99" y="617.30" font-size="34.40" textLength="37.33" lengthAdjust="spacingAndGlyphs" fill="#000">50</text>
<text x="1350.99" y="614.70" font-size="34.59" textLength="56.31" lengthAdjust="spacingAndGlyphs" fill="#000">403</text>
<text x="1266.45" y="641.50" font-size="30.00" textLength="11.47" lengthAdjust="spacingAndGlyphs" fill="#000">*</text>
<line x1="1276.00" y1="632.00" x2="1322.00" y2="661.00" stroke="#000" stroke-width="2.2" stroke-linecap="butt"/>
<polygon points="1337.5,671.2 1325.5,651 1312,669.2" fill="#000"/>
<text x="1337.89" y="681.80" font-size="33.68" textLength="147.88" lengthAdjust="spacingAndGlyphs" fill="#000">Septin 11</text>
</g>
<g id="pe">
<text x="1549.98" y="64.40" font-size="55.93" textLength="33.60" lengthAdjust="spacingAndGlyphs" fill="#000">e</text>
<text x="1704.35" y="54.90" font-size="30.90" textLength="54.97" lengthAdjust="spacingAndGlyphs" fill="#000">Veh</text>
<text x="1772.04" y="54.90" font-size="30.98" textLength="36.97" lengthAdjust="spacingAndGlyphs" fill="#000">E2</text>
<text x="1829.75" y="54.90" font-size="30.96" textLength="55.08" lengthAdjust="spacingAndGlyphs" fill="#000">Veh</text>
<text x="1889.66" y="54.90" font-size="30.52" textLength="76.14" lengthAdjust="spacingAndGlyphs" fill="#000">27HC</text>
<text x="1609.09" y="84.40" font-size="34.93" textLength="75.74" lengthAdjust="spacingAndGlyphs" fill="#000">IP/IB</text>
<text x="1624.91" y="119.00" font-size="33.73" textLength="67.60" lengthAdjust="spacingAndGlyphs" fill="#000">ERα</text>
<text x="1556.79" y="186.00" font-size="33.56" textLength="147.37" lengthAdjust="spacingAndGlyphs" fill="#000">Septin 11</text>
<clipPath id="cp3"><rect x="1705.6" y="70.0" width="113.2" height="63.2"/></clipPath>
<g clip-path="url(#cp3)">
<rect x="1705.60" y="70.00" width="113.20" height="63.20" fill="#e2e2e2"/>
<path d="M1706.8,103.8 C1706.8,100 1712,99 1722,98.9 C1733,98.9 1744,100.2 1756.5,103.6 C1757.2,104 1757.2,104.6 1756.5,105 C1746,107.8 1734,108.7 1722,108.7 C1712,108.7 1706.8,107.6 1706.8,103.8 Z" fill="#0c0c0c" filter="url(#bl1)"/>
<path d="M1763,104 C1766,101 1772,98.4 1786,98.2 C1800,98 1815.2,98.6 1815.4,103.4 C1815.4,108.2 1802,108.8 1786,108.8 C1773,108.8 1767,106.8 1763,105 Z" fill="#0c0c0c" filter="url(#bl1)"/>
<rect x="1755.0" y="103.4" width="10.0" height="2.0" rx="1.0" fill="#8a8a8a" filter="url(#bl1)"/>
</g>
<clipPath id="cp4"><rect x="1839.6" y="70.0" width="113.6" height="62.0"/></clipPath>
<g clip-path="url(#cp4)">
<rect x="1839.60" y="70.00" width="113.60" height="62.00" fill="#e2e2e2"/>
<path d="M1840.4,103 C1840.8,98.4 1850,97.6 1864,97.5 C1878,97.5 1888,98.6 1893,101 C1905,101.2 1925,101 1938,102.2 C1943,103 1943.4,109 1938,110 C1925,111.4 1905,110.8 1893,109.4 C1885,109.8 1878,109.6 1864,109.4 C1850,109.2 1840.4,107.8 1840.4,103 Z" fill="#0c0c0c" filter="url(#bl1)"/>
</g>
<clipPath id="cp5"><rect x="1706.8" y="147.4" width="114.8" height="55.4"/></clipPath>
<g clip-path="url(#cp5)">
<rect x="1706.80" y="147.40" width="114.80" height="55.40" fill="#e2e2e2"/>
<ellipse cx="1719.5" cy="178.5" rx="10.0" ry="5.6" fill="#1a1a1a" filter="url(#bl2)" transform="rotate(12 1719.5 178.5)"/>
<ellipse cx="1747.0" cy="183.5" rx="9.2" ry="6.6" fill="#111" filter="url(#bl2)"/>
<rect x="1727.0" y="180.5" width="15.0" height="4.0" rx="2.0" fill="#555" filter="url(#bl2)"/>
<path d="M1761,187 C1762,178 1775,177.5 1790,178 C1805,178 1814,180 1815,187 C1815,194 1806,197 1790,197 C1772,197 1761,195 1761,187 Z" fill="#080808" filter="url(#bl2)"/>
<rect x="1766.0" y="196.0" width="7.0" height="12.0" rx="3.5" fill="#8e8e8e" filter="url(#bl3)"/>
<rect x="1802.0" y="196.0" width="7.0" height="12.0" rx="3.5" fill="#8e8e8e" filter="url(#bl3)"/>
<rect x="1771.0" y="195.0" width="34.0" height="13.0" rx="6.5" fill="#c4c4c4" filter="url(#bl3)"/>
</g>
<clipPath id="cp6"><rect x="1841.2" y="146.6" width="113.2" height="56.6"/></clipPath>
<g clip-path="url(#cp6)">
<rect x="1841.20" y="146.60" width="113.20" height="56.60" fill="#e2e2e2"/>
<path d="M1847,186 C1848,180 1862,179.5 1875,179.5 C1890,179.5 1899,181 1899.5,185.5 C1899,190.5 1890,192.5 1873,192.5 C1858,192.5 1848,191 1847,186 Z" fill="#0c0c0c" filter="url(#bl1)"/>
<rect x="1905.0" y="180.6" width="39.0" height="3.4" rx="1.7" fill="#1c1c1c" filter="url(#bl1)" transform="rotate(-3.0 1924.5 182.3)"/>
<ellipse cx="1937.0" cy="181.0" rx="5.0" ry="1.9" fill="#1c1c1c" filter="url(#bl1)" transform="rotate(-3 1937.0 181.0)"/>
<ellipse cx="1872.4" cy="200.6" rx="0.9" ry="0.9" fill="#444" filter="url(#bl0)"/>
</g>
<rect x="1943.30" y="94.80" width="17.00" height="3.00" fill="#000"/>
<text x="1963.19" y="102.60" font-size="15.69" textLength="17.03" lengthAdjust="spacingAndGlyphs" fill="#000">75</text>
<rect x="1944.50" y="172.80" width="17.00" height="3.30" fill="#000"/>
<text x="1964.56" y="180.40" font-size="15.08" textLength="16.36" lengthAdjust="spacingAndGlyphs" fill="#000">50</text>
</g>
<g id="pf">
<text x="1559.62" y="302.40" font-size="59.17" textLength="21.65" lengthAdjust="spacingAndGlyphs" fill="#000">f</text>
<text x="1587.05" y="301.00" font-size="30.77" textLength="76.75" lengthAdjust="spacingAndGlyphs" fill="#000">27HC</text>
<text x="1589.09" y="336.80" font-size="30.15" textLength="73.68" lengthAdjust="spacingAndGlyphs" fill="#000">(min)</text>
<text x="1700.12" y="285.90" font-size="30.40" textLength="74.28" lengthAdjust="spacingAndGlyphs" fill="#000">Input</text>
<rect x="1697.40" y="289.40" width="81.30" height="3.10" fill="#000"/>
<text x="1703.80" y="330.70" font-size="30.86" textLength="16.74" lengthAdjust="spacingAndGlyphs" fill="#000">0</text>
<text x="1742.68" y="330.70" font-size="31.16" textLength="33.81" lengthAdjust="spacingAndGlyphs" fill="#000">10</text>
<text x="1801.07" y="330.70" font-size="31.51" textLength="17.09" lengthAdjust="spacingAndGlyphs" fill="#000">0</text>
<text x="1843.46" y="330.70" font-size="31.72" textLength="17.21" lengthAdjust="spacingAndGlyphs" fill="#000">0</text>
<text x="1877.08" y="330.70" font-size="31.16" textLength="33.81" lengthAdjust="spacingAndGlyphs" fill="#000">10</text>
<text x="1925.48" y="330.70" font-size="31.05" textLength="33.70" lengthAdjust="spacingAndGlyphs" fill="#000">10</text>
<text x="1597.48" y="384.10" font-size="35.07" textLength="76.05" lengthAdjust="spacingAndGlyphs" fill="#000">IP/IB</text>
<text x="1598.49" y="425.70" font-size="33.99" textLength="68.11" lengthAdjust="spacingAndGlyphs" fill="#000">ERα</text>
<text x="1539.60" y="481.70" font-size="33.45" textLength="146.87" lengthAdjust="spacingAndGlyphs" fill="#000">Septin 11</text>
<text x="1556.55" y="578.60" font-size="35.51" textLength="77.00" lengthAdjust="spacingAndGlyphs" fill="#000">IP/IB</text>
<text x="1534.40" y="620.70" font-size="33.31" textLength="146.26" lengthAdjust="spacingAndGlyphs" fill="#000">Septin 11</text>
<text x="1581.62" y="702.60" font-size="33.58" textLength="67.28" lengthAdjust="spacingAndGlyphs" fill="#000">ERα</text>
<clipPath id="cp7"><rect x="1693.9" y="340.8" width="285.2" height="75.9"/></clipPath>
<g clip-path="url(#cp7)">
<rect x="1693.90" y="340.80" width="285.20" height="75.90" fill="#dcdcdc"/>
<rect x="1705.6" y="370.8" width="33.1" height="9.2" rx="4.6" fill="#1e1e1e" filter="url(#bl3)"/>
<rect x="1745.7" y="372.8" width="40.1" height="10.6" rx="5.3" fill="#161616" filter="url(#bl3)" transform="rotate(1.5 1765.8 378.1)"/>
<rect x="1795.7" y="369.8" width="34.9" height="9.6" rx="4.8" fill="#1e1e1e" filter="url(#bl3)"/>
<rect x="1837.7" y="370.8" width="34.9" height="8.4" rx="4.2" fill="#262626" filter="url(#bl3)"/>
<rect x="1881.3" y="372.2" width="37.2" height="9.2" rx="4.6" fill="#1e1e1e" filter="url(#bl3)"/>
<rect x="1927.3" y="373.2" width="38.9" height="9.8" rx="4.9" fill="#181818" filter="url(#bl3)"/>
</g>
<clipPath id="cp8"><rect x="1695.0" y="427.2" width="281.8" height="92.9"/></clipPath>
<g clip-path="url(#cp8)">
<rect x="1695.00" y="427.20" width="281.80" height="92.90" fill="#dcdcdc"/>
<path d="M1711,477 C1711,472.5 1718,471.8 1724,472.5 C1730,471.5 1737,470 1738.5,473 C1739,477 1733,478 1727,478.5 C1720,480.5 1712,482 1711,477 Z" fill="#141414" filter="url(#bl2)"/>
<path d="M1750.5,476 C1751,472 1758,471.5 1764,469.5 C1770,466.5 1778,464.5 1779.6,468 C1780.5,472.5 1776,475.5 1768,476.5 C1762,478 1751,480.5 1750.5,476 Z" fill="#141414" filter="url(#bl2)"/>
<path d="M1795,465 C1795,455 1806,454 1816,454.5 C1826,454.5 1833,456 1833,464 C1833,472 1825,474.5 1814,475 C1803,475.5 1795,474 1795,465 Z" fill="#141414" filter="url(#bl3)"/>
<path d="M1834,463 C1835,455 1845,453.5 1852,455 C1861,457 1868,464 1869,470 C1868,473.5 1860,472.5 1852,472.5 C1842,472.5 1834,471.5 1834,463 Z" fill="#161616" filter="url(#bl3)"/>
<ellipse cx="1890.7" cy="466.6" rx="3.0" ry="2.4" fill="#d2d2d2" filter="url(#bl2)"/>
</g>
<clipPath id="cp9"><rect x="1691.5" y="539.2" width="283.4" height="97.6"/></clipPath>
<g clip-path="url(#cp9)">
<rect x="1691.50" y="539.20" width="283.40" height="97.60" fill="#dcdcdc"/>
<rect x="1696.2" y="579.4" width="30.7" height="4.2" rx="2.1" fill="#2a2a2a" filter="url(#bl1)" transform="rotate(1.5 1711.6 581.5)"/>
<rect x="1737.5" y="581.8" width="33.0" height="5.0" rx="2.5" fill="#2a2a2a" filter="url(#bl1)" transform="rotate(6 1754.0 584.3)"/>
<path d="M1776.5,586 C1779,581.5 1800,582.5 1814,586.5 C1816.5,589 1814,592.5 1808,592.8 C1796,593 1777,590.5 1776.5,586 Z" fill="#141414" filter="url(#bl2)"/>
<path d="M1821,589 C1823,584 1845,584 1859,586.5 C1861.5,590 1859,595.5 1850,596.2 C1838,597 1821,594.5 1821,589 Z" fill="#141414" filter="url(#bl2)"/>
<path d="M1866,592 C1867,585.5 1885,585 1900,588.5 C1907,590.5 1907,597 1900,599.5 C1888,602.5 1866,601 1866,592 Z" fill="#101010" filter="url(#bl2)"/>
<path d="M1912,595.5 C1913,590 1935,590 1950,593 C1953,596 1951,600.5 1944,601.5 C1930,603 1912,601.5 1912,595.5 Z" fill="#101010" filter="url(#bl2)"/>
</g>
<clipPath id="cp10"><rect x="1688.4" y="652.3" width="287.7" height="86.3"/></clipPath>
<g clip-path="url(#cp10)">
<rect x="1688.40" y="652.30" width="287.70" height="86.30" fill="#dcdcdc"/>
<rect x="1702.1" y="687.2" width="31.8" height="5.6" rx="2.8" fill="#3c3c3c" filter="url(#bl2)"/>
<rect x="1743.8" y="686.8" width="32.6" height="6.0" rx="3.0" fill="#3c3c3c" filter="url(#bl2)" transform="rotate(2.5 1760.1 689.8)"/>
<rect x="1781.0" y="688.0" width="45.0" height="32.0" rx="16.0" fill="#bdbdbd" filter="url(#bl3)"/>
<rect x="1827.0" y="688.0" width="46.0" height="34.0" rx="17.0" fill="#bdbdbd" filter="url(#bl3)"/>
<path d="M1783.5,701 C1783.5,691 1792,690 1803,690 C1815,690 1823.5,691 1823.5,701 C1823.5,711 1815,713 1803,713 C1791,713 1783.5,711 1783.5,701 Z" fill="#101010" filter="url(#bl3)"/>
<path d="M1829.5,701 C1829.5,691 1838,690 1850,690 C1862,690 1870.5,691 1870.5,701 C1870.5,712 1862,714 1850,714 C1838,714 1829.5,711 1829.5,701 Z" fill="#101010" filter="url(#bl3)"/>
<rect x="1880.0" y="696.5" width="29.6" height="9.5" rx="4.8" fill="#a4a4a4" filter="url(#bl3)"/>
<rect x="1927.0" y="698.5" width="30.0" height="8.5" rx="4.2" fill="#c4c4c4" filter="url(#bl3)"/>
</g>
<rect x="1962.60" y="357.30" width="17.70" height="3.10" fill="#000"/>
<text x="1983.20" y="364.40" font-size="15.50" textLength="16.82" lengthAdjust="spacingAndGlyphs" fill="#000">75</text>
<rect x="1963.80" y="460.70" width="16.50" height="3.50" fill="#000"/>
<text x="1983.34" y="467.30" font-size="15.57" textLength="16.90" lengthAdjust="spacingAndGlyphs" fill="#000">50</text>
<rect x="1965.00" y="573.90" width="17.20" height="3.00" fill="#000"/>
<text x="1984.89" y="581.00" font-size="15.69" textLength="17.03" lengthAdjust="spacingAndGlyphs" fill="#000">75</text>
<rect x="1961.90" y="700.90" width="17.20" height="3.50" fill="#000"/>
<text x="1981.74" y="708.00" font-size="15.57" textLength="16.90" lengthAdjust="spacingAndGlyphs" fill="#000">50</text>
</g>
<g id="pg">
<text x="58.53" y="832.40" font-size="55.00" textLength="39.31" lengthAdjust="spacingAndGlyphs" fill="#000">g</text>
<text x="207.08" y="826.50" font-size="38.07" textLength="145.90" lengthAdjust="spacingAndGlyphs" fill="#000">Cohort I</text>
<rect x="207.20" y="830.70" width="144.60" height="4.10" fill="#000"/>
<rect x="126.10" y="882.20" width="2.10" height="218.50" fill="#000"/>
<rect x="126.50" y="1098.60" width="286.80" height="2.10" fill="#000"/>
<rect x="127.00" y="882.10" width="6.00" height="2.20" fill="#000"/>
<rect x="127.00" y="932.90" width="6.00" height="2.20" fill="#000"/>
<rect x="127.00" y="984.40" width="6.00" height="2.20" fill="#000"/>
<rect x="127.00" y="1035.50" width="6.00" height="2.20" fill="#000"/>
<rect x="127.00" y="1086.30" width="6.00" height="2.20" fill="#000"/>
<text x="81.99" y="892.70" font-size="29.43" textLength="33.91" lengthAdjust="spacingAndGlyphs" fill="#000">80</text>
<text x="81.83" y="943.60" font-size="29.43" textLength="34.07" lengthAdjust="spacingAndGlyphs" fill="#000">60</text>
<text x="82.04" y="987.30" font-size="29.43" textLength="33.84" lengthAdjust="spacingAndGlyphs" fill="#000">40</text>
<text x="81.83" y="1045.20" font-size="29.43" textLength="34.07" lengthAdjust="spacingAndGlyphs" fill="#000">20</text>
<text x="96.70" y="1098.30" font-size="29.43" textLength="16.63" lengthAdjust="spacingAndGlyphs" fill="#000">0</text>
<text x="209.43" y="918.00" font-size="30.33" textLength="128.99" lengthAdjust="spacingAndGlyphs" fill="#000">p=0.0030</text>
<rect x="205.40" y="923.30" width="121.90" height="3.50" fill="#000"/>
<line x1="208.60" y1="962.90" x2="208.60" y2="1040.90" stroke="#000" stroke-width="2.7" stroke-linecap="butt"/>
<line x1="188.40" y1="962.90" x2="228.80" y2="962.90" stroke="#000" stroke-width="2.7" stroke-linecap="butt"/>
<line x1="188.40" y1="1040.90" x2="228.80" y2="1040.90" stroke="#000" stroke-width="2.7" stroke-linecap="butt"/>
<rect x="169.55" y="997.25" width="77.90" height="15.60" fill="#fff" stroke="#000" stroke-width="2.7"/>
<line x1="168.20" y1="1004.60" x2="248.80" y2="1004.60" stroke="#000" stroke-width="2.7" stroke-linecap="butt"/>
<line x1="330.30" y1="963.60" x2="330.30" y2="988.00" stroke="#000" stroke-width="2.7" stroke-linecap="butt"/>
<line x1="310.20" y1="963.60" x2="350.40" y2="963.60" stroke="#000" stroke-width="2.7" stroke-linecap="butt"/>
<line x1="310.20" y1="988.00" x2="350.40" y2="988.00" stroke="#000" stroke-width="2.7" stroke-linecap="butt"/>
<rect x="290.95" y="967.55" width="78.70" height="15.90" fill="#4e4ef4" stroke="#000" stroke-width="2.7"/>
<line x1="289.60" y1="974.80" x2="371.00" y2="974.80" stroke="#000" stroke-width="2.7" stroke-linecap="butt"/>
<text x="150.40" y="1131.50" font-size="33.85" textLength="116.61" lengthAdjust="spacingAndGlyphs" fill="#000">Normal</text>
<text x="288.15" y="1131.30" font-size="33.91" textLength="109.28" lengthAdjust="spacingAndGlyphs" fill="#000">Athero</text>
<text transform="translate(26.10,1152.91) rotate(-90)" font-size="30.31" textLength="310.00" lengthAdjust="spacingAndGlyphs" fill="#000">SEPTIN11 expression</text>
<text transform="translate(61.60,1050.52) rotate(-90)" font-size="31.08" textLength="106.11" lengthAdjust="spacingAndGlyphs" fill="#000">(FPKM)</text>
</g>
<g id="ph">
<text x="518.07" y="831.50" font-size="57.52" textLength="37.80" lengthAdjust="spacingAndGlyphs" fill="#000">h</text>
<text x="695.58" y="828.90" font-size="37.93" textLength="155.90" lengthAdjust="spacingAndGlyphs" fill="#000">Cohort II</text>
<rect x="695.30" y="833.10" width="165.30" height="3.80" fill="#000"/>
<text x="716.03" y="871.50" font-size="30.35" textLength="129.09" lengthAdjust="spacingAndGlyphs" fill="#000">p=0.0080</text>
<rect x="719.80" y="888.30" width="122.20" height="4.20" fill="#000"/>
<rect x="644.70" y="889.30" width="2.20" height="219.10" fill="#000"/>
<rect x="644.70" y="1106.30" width="287.10" height="2.10" fill="#000"/>
<rect x="645.00" y="889.30" width="7.00" height="2.20" fill="#000"/>
<rect x="645.00" y="943.10" width="7.00" height="2.20" fill="#000"/>
<rect x="645.00" y="997.60" width="7.00" height="2.20" fill="#000"/>
<rect x="645.00" y="1051.70" width="7.00" height="2.20" fill="#000"/>
<text x="566.84" y="897.10" font-size="29.71" textLength="67.26" lengthAdjust="spacingAndGlyphs" fill="#000">2000</text>
<text x="568.22" y="949.20" font-size="29.71" textLength="65.85" lengthAdjust="spacingAndGlyphs" fill="#000">1500</text>
<text x="568.22" y="1005.40" font-size="29.71" textLength="65.85" lengthAdjust="spacingAndGlyphs" fill="#000">1000</text>
<text x="582.01" y="1061.70" font-size="29.71" textLength="49.69" lengthAdjust="spacingAndGlyphs" fill="#000">500</text>
<text x="610.90" y="1110.60" font-size="29.71" textLength="16.63" lengthAdjust="spacingAndGlyphs" fill="#000">0</text>
<line x1="727.15" y1="940.70" x2="727.15" y2="1007.40" stroke="#000" stroke-width="2.7" stroke-linecap="butt"/>
<line x1="706.70" y1="940.70" x2="747.60" y2="940.70" stroke="#000" stroke-width="2.7" stroke-linecap="butt"/>
<line x1="706.70" y1="1007.40" x2="747.60" y2="1007.40" stroke="#000" stroke-width="2.7" stroke-linecap="butt"/>
<rect x="687.85" y="963.45" width="78.60" height="18.90" fill="#fff" stroke="#000" stroke-width="2.7"/>
<line x1="686.50" y1="968.40" x2="767.80" y2="968.40" stroke="#000" stroke-width="2.7" stroke-linecap="butt"/>
<line x1="849.20" y1="917.20" x2="849.20" y2="994.90" stroke="#000" stroke-width="2.7" stroke-linecap="butt"/>
<line x1="828.80" y1="917.20" x2="869.60" y2="917.20" stroke="#000" stroke-width="2.7" stroke-linecap="butt"/>
<line x1="828.80" y1="994.90" x2="869.60" y2="994.90" stroke="#000" stroke-width="2.7" stroke-linecap="butt"/>
<rect x="809.45" y="945.45" width="79.20" height="24.90" fill="#4e4ef4" stroke="#000" stroke-width="2.7"/>
<line x1="808.10" y1="960.20" x2="890.00" y2="960.20" stroke="#000" stroke-width="2.7" stroke-linecap="butt"/>
<text x="671.40" y="1137.00" font-size="33.88" textLength="116.71" lengthAdjust="spacingAndGlyphs" fill="#000">Normal</text>
<text x="799.75" y="1137.00" font-size="33.82" textLength="108.97" lengthAdjust="spacingAndGlyphs" fill="#000">Athero</text>
<text transform="translate(504.50,1146.41) rotate(-90)" font-size="30.27" textLength="309.60" lengthAdjust="spacingAndGlyphs" fill="#000">SEPTIN11 expression</text>
<text transform="translate(539.90,1125.61) rotate(-90)" font-size="30.19" textLength="268.41" lengthAdjust="spacingAndGlyphs" fill="#000">(Relative Intensity)</text>
</g>
<g id="pi">
<text x="965.50" y="842.00" font-size="60.00" textLength="17.86" lengthAdjust="spacingAndGlyphs" fill="#000">i</text>
<rect x="1091.90" y="803.20" width="3.10" height="300.30" fill="#000"/>
<rect x="1091.90" y="1100.50" width="300.40" height="3.00" fill="#000"/>
<rect x="1092.00" y="803.20" width="10.60" height="3.00" fill="#000"/>
<rect x="1092.00" y="877.70" width="10.60" height="3.00" fill="#000"/>
<rect x="1092.00" y="952.10" width="10.60" height="3.00" fill="#000"/>
<rect x="1092.00" y="1026.20" width="10.60" height="3.00" fill="#000"/>
<text x="1057.40" y="816.70" font-size="35.07" textLength="18.61" lengthAdjust="spacingAndGlyphs" fill="#000">4</text>
<text x="1057.87" y="887.90" font-size="34.57" textLength="18.54" lengthAdjust="spacingAndGlyphs" fill="#000">3</text>
<text x="1057.78" y="961.70" font-size="34.57" textLength="19.47" lengthAdjust="spacingAndGlyphs" fill="#000">2</text>
<text x="1062.10" y="1034.10" font-size="35.07" textLength="12.07" lengthAdjust="spacingAndGlyphs" fill="#000">1</text>
<text x="1057.60" y="1105.40" font-size="34.57" textLength="19.44" lengthAdjust="spacingAndGlyphs" fill="#000">0</text>
<text x="1200.72" y="812.70" font-size="28.14" textLength="144.26" lengthAdjust="spacingAndGlyphs" fill="#000">P=6.35E-11</text>
<rect x="1213.00" y="815.90" width="122.00" height="2.60" fill="#000"/>
<text x="1098.99" y="849.70" font-size="28.48" textLength="147.51" lengthAdjust="spacingAndGlyphs" fill="#000">P=2.46E-12</text>
<rect x="1124.20" y="855.40" width="81.80" height="2.60" fill="#000"/>
<rect x="1118.40" y="1028.70" width="42.60" height="72.70" fill="#fff" stroke="#000" stroke-width="2.8"/>
<rect x="1186.60" y="922.90" width="42.60" height="178.50" fill="#ff0000" stroke="#000" stroke-width="2.8"/>
<rect x="1255.40" y="1041.70" width="42.90" height="59.70" fill="#0000ff" stroke="#000" stroke-width="2.8"/>
<rect x="1323.50" y="1015.50" width="42.60" height="85.90" fill="#780896" stroke="#000" stroke-width="2.8"/>
<line x1="1139.70" y1="1024.50" x2="1139.70" y2="1030.80" stroke="#000" stroke-width="2.5" stroke-linecap="butt"/>
<line x1="1128.40" y1="1024.50" x2="1151.00" y2="1024.50" stroke="#000" stroke-width="2.5" stroke-linecap="butt"/>
<line x1="1128.40" y1="1030.80" x2="1151.00" y2="1030.80" stroke="#000" stroke-width="2.5" stroke-linecap="butt"/>
<line x1="1207.90" y1="911.00" x2="1207.90" y2="930.90" stroke="#000" stroke-width="2.6" stroke-linecap="butt"/>
<line x1="1196.40" y1="911.00" x2="1219.40" y2="911.00" stroke="#000" stroke-width="2.6" stroke-linecap="butt"/>
<line x1="1196.40" y1="930.90" x2="1219.40" y2="930.90" stroke="#000" stroke-width="2.6" stroke-linecap="butt"/>
<line x1="1276.80" y1="1036.50" x2="1276.80" y2="1044.00" stroke="#000" stroke-width="2.5" stroke-linecap="butt"/>
<line x1="1265.50" y1="1036.50" x2="1288.10" y2="1036.50" stroke="#000" stroke-width="2.5" stroke-linecap="butt"/>
<line x1="1265.50" y1="1044.00" x2="1288.10" y2="1044.00" stroke="#000" stroke-width="2.5" stroke-linecap="butt"/>
<line x1="1344.80" y1="1008.80" x2="1344.80" y2="1019.00" stroke="#000" stroke-width="2.6" stroke-linecap="butt"/>
<line x1="1333.50" y1="1008.80" x2="1356.10" y2="1008.80" stroke="#000" stroke-width="2.6" stroke-linecap="butt"/>
<line x1="1333.50" y1="1019.00" x2="1356.10" y2="1019.00" stroke="#000" stroke-width="2.6" stroke-linecap="butt"/>
<circle cx="1139.7" cy="1010.6" r="4.6" fill="#000"/>
<circle cx="1148.5" cy="1016.5" r="4.6" fill="#000"/>
<circle cx="1121.6" cy="1036.8" r="4.6" fill="#000"/>
<circle cx="1131.0" cy="1028.7" r="4.6" fill="#000"/>
<circle cx="1139.7" cy="1026.3" r="4.6" fill="#000"/>
<circle cx="1139.7" cy="1036.8" r="4.6" fill="#000"/>
<circle cx="1150.2" cy="1028.7" r="4.6" fill="#000"/>
<circle cx="1157.9" cy="1036.8" r="4.6" fill="#000"/>
<circle cx="1207.9" cy="869.8" r="4.6" fill="#000"/>
<circle cx="1207.9" cy="902.3" r="4.6" fill="#000"/>
<circle cx="1199.1" cy="913.5" r="4.6" fill="#000"/>
<circle cx="1217.3" cy="913.5" r="4.6" fill="#000"/>
<circle cx="1190.4" cy="932.7" r="4.6" fill="#000"/>
<circle cx="1207.9" cy="941.4" r="4.6" fill="#000"/>
<circle cx="1225.3" cy="941.4" r="4.6" fill="#000"/>
<circle cx="1207.9" cy="958.2" r="4.6" fill="#000"/>
<circle cx="1267.2" cy="1022.1" r="4.35" fill="#fff" stroke="#000" stroke-width="2.7"/>
<circle cx="1277.0" cy="1030.5" r="4.35" fill="#fff" stroke="#000" stroke-width="2.7"/>
<circle cx="1258.5" cy="1049.7" r="4.35" fill="#fff" stroke="#000" stroke-width="2.7"/>
<circle cx="1268.3" cy="1042.7" r="4.35" fill="#fff" stroke="#000" stroke-width="2.7"/>
<circle cx="1277.0" cy="1045.5" r="4.35" fill="#fff" stroke="#000" stroke-width="2.7"/>
<circle cx="1286.5" cy="1045.5" r="4.35" fill="#fff" stroke="#000" stroke-width="2.7"/>
<circle cx="1295.2" cy="1041.3" r="4.35" fill="#fff" stroke="#000" stroke-width="2.7"/>
<circle cx="1295.2" cy="1051.8" r="4.35" fill="#fff" stroke="#000" stroke-width="2.7"/>
<circle cx="1351.2" cy="992.8" r="4.6" fill="#000"/>
<circle cx="1338.9" cy="997.2" r="4.6" fill="#000"/>
<circle cx="1326.7" cy="1014.7" r="4.6" fill="#000"/>
<circle cx="1338.9" cy="1021.7" r="4.6" fill="#000"/>
<circle cx="1345.0" cy="1016.0" r="4.6" fill="#000"/>
<circle cx="1351.2" cy="1022.6" r="4.6" fill="#000"/>
<circle cx="1363.5" cy="1021.7" r="4.6" fill="#000"/>
<circle cx="1326.7" cy="1029.6" r="4.6" fill="#000"/>
<text x="1099.45" y="1133.30" font-size="30.55" textLength="54.35" lengthAdjust="spacingAndGlyphs" fill="#000">Veh</text>
<text x="1162.46" y="1133.30" font-size="30.44" textLength="75.93" lengthAdjust="spacingAndGlyphs" fill="#000">27HC</text>
<text x="1249.65" y="1133.30" font-size="30.55" textLength="54.35" lengthAdjust="spacingAndGlyphs" fill="#000">Veh</text>
<text x="1310.96" y="1133.30" font-size="30.40" textLength="75.83" lengthAdjust="spacingAndGlyphs" fill="#000">27HC</text>
<rect x="1104.80" y="1148.80" width="122.30" height="3.90" fill="#000"/>
<rect x="1253.30" y="1148.60" width="122.20" height="3.90" fill="#000"/>
<text x="1115.94" y="1181.60" font-size="30.15" textLength="93.79" lengthAdjust="spacingAndGlyphs" fill="#000">shCon</text>
<text x="1256.46" y="1179.40" font-size="29.73" textLength="94.27" lengthAdjust="spacingAndGlyphs" fill="#000">shERα</text>
<text transform="translate(1046.40,1065.94) rotate(-90)" font-size="34.39" textLength="233.80" lengthAdjust="spacingAndGlyphs" fill="#000">NF-kB Activity</text>
</g>
<g id="pj">
<text x="1466.63" y="838.30" font-size="58.76" textLength="17.29" lengthAdjust="spacingAndGlyphs" fill="#000">j</text>
<rect x="1566.30" y="811.40" width="3.20" height="299.40" fill="#000"/>
<rect x="1566.30" y="1107.30" width="299.40" height="3.50" fill="#000"/>
<rect x="1566.50" y="811.40" width="9.30" height="3.00" fill="#000"/>
<rect x="1566.50" y="885.70" width="9.30" height="3.00" fill="#000"/>
<rect x="1566.50" y="959.80" width="9.30" height="3.00" fill="#000"/>
<rect x="1566.50" y="1033.90" width="9.30" height="3.00" fill="#000"/>
<text x="1536.89" y="826.00" font-size="34.57" textLength="18.76" lengthAdjust="spacingAndGlyphs" fill="#000">8</text>
<text x="1536.67" y="899.80" font-size="34.57" textLength="19.61" lengthAdjust="spacingAndGlyphs" fill="#000">6</text>
<text x="1536.80" y="973.90" font-size="35.07" textLength="18.61" lengthAdjust="spacingAndGlyphs" fill="#000">4</text>
<text x="1536.79" y="1046.50" font-size="34.57" textLength="19.23" lengthAdjust="spacingAndGlyphs" fill="#000">2</text>
<text x="1536.60" y="1113.90" font-size="34.57" textLength="19.44" lengthAdjust="spacingAndGlyphs" fill="#000">0</text>
<text x="1701.70" y="821.30" font-size="28.42" textLength="131.81" lengthAdjust="spacingAndGlyphs" fill="#000">P=6.39E-7</text>
<rect x="1684.80" y="827.20" width="122.20" height="2.80" fill="#000"/>
<text x="1574.70" y="859.10" font-size="28.42" textLength="131.81" lengthAdjust="spacingAndGlyphs" fill="#000">P=4.40E-7</text>
<rect x="1599.90" y="864.90" width="81.40" height="2.70" fill="#000"/>
<rect x="1591.75" y="1073.35" width="43.20" height="35.65" fill="#fff" stroke="#000" stroke-width="1.9"/>
<rect x="1659.85" y="929.05" width="43.50" height="179.95" fill="#ff0000" stroke="#000" stroke-width="1.9"/>
<rect x="1728.65" y="1076.85" width="42.80" height="32.15" fill="#000" stroke="#000" stroke-width="1.9"/>
<rect x="1796.85" y="1068.15" width="42.80" height="40.85" fill="#00b900" stroke="#000" stroke-width="1.9"/>
<line x1="1601.70" y1="1069.80" x2="1623.40" y2="1069.80" stroke="#000" stroke-width="1.8" stroke-linecap="butt"/>
<line x1="1613.30" y1="1069.80" x2="1613.30" y2="1074.00" stroke="#000" stroke-width="1.8" stroke-linecap="butt"/>
<line x1="1681.50" y1="911.00" x2="1681.50" y2="945.20" stroke="#000" stroke-width="2" stroke-linecap="butt"/>
<line x1="1670.10" y1="911.00" x2="1692.90" y2="911.00" stroke="#000" stroke-width="2" stroke-linecap="butt"/>
<line x1="1670.10" y1="945.20" x2="1692.90" y2="945.20" stroke="#000" stroke-width="2" stroke-linecap="butt"/>
<line x1="1738.00" y1="1072.90" x2="1762.00" y2="1072.90" stroke="#000" stroke-width="1.6" stroke-linecap="butt"/>
<line x1="1807.30" y1="1066.20" x2="1829.00" y2="1066.20" stroke="#000" stroke-width="1.8" stroke-linecap="butt"/>
<line x1="1818.00" y1="1066.20" x2="1818.00" y2="1069.00" stroke="#000" stroke-width="1.8" stroke-linecap="butt"/>
<circle cx="1600.3" cy="1076.1" r="3.15" fill="#000"/>
<circle cx="1613.1" cy="1070.5" r="3.15" fill="#000"/>
<circle cx="1625.7" cy="1067.3" r="3.15" fill="#000"/>
<circle cx="1625.7" cy="1075.7" r="3.15" fill="#000"/>
<circle cx="1681.3" cy="881.7" r="3.15" fill="#000"/>
<circle cx="1681.3" cy="926.0" r="3.15" fill="#000"/>
<circle cx="1681.3" cy="940.7" r="3.15" fill="#000"/>
<circle cx="1681.3" cy="965.2" r="3.15" fill="#000"/>
<circle cx="1737.1" cy="1072.9" r="2.65" fill="#fff" stroke="#000" stroke-width="1.5"/>
<circle cx="1749.9" cy="1074.3" r="2.65" fill="#fff" stroke="#000" stroke-width="1.5"/>
<circle cx="1762.8" cy="1072.9" r="2.65" fill="#fff" stroke="#000" stroke-width="1.5"/>
<circle cx="1749.9" cy="1082.7" r="2.1" fill="#fff"/>
<circle cx="1798.9" cy="1064.5" r="3.15" fill="#000"/>
<circle cx="1798.9" cy="1071.5" r="3.15" fill="#000"/>
<circle cx="1824.8" cy="1068.7" r="3.15" fill="#000"/>
<circle cx="1838.0" cy="1065.9" r="3.15" fill="#000"/>
<text x="1572.85" y="1141.70" font-size="30.73" textLength="54.66" lengthAdjust="spacingAndGlyphs" fill="#000">Veh</text>
<text x="1636.56" y="1141.70" font-size="30.57" textLength="76.24" lengthAdjust="spacingAndGlyphs" fill="#000">27HC</text>
<text x="1724.05" y="1141.70" font-size="30.55" textLength="54.35" lengthAdjust="spacingAndGlyphs" fill="#000">Veh</text>
<text x="1785.06" y="1141.70" font-size="30.57" textLength="76.24" lengthAdjust="spacingAndGlyphs" fill="#000">27HC</text>
<rect x="1579.30" y="1156.70" width="122.20" height="4.00" fill="#000"/>
<rect x="1727.70" y="1156.70" width="122.30" height="4.00" fill="#000"/>
<text x="1589.75" y="1186.80" font-size="30.12" textLength="93.69" lengthAdjust="spacingAndGlyphs" fill="#000">shCon</text>
<text x="1725.95" y="1186.80" font-size="29.86" textLength="131.13" lengthAdjust="spacingAndGlyphs" fill="#000">shSept11</text>
<text transform="translate(1517.40,1072.20) rotate(-90)" font-size="33.87" textLength="230.26" lengthAdjust="spacingAndGlyphs" fill="#000">NF-kB Activity</text>
</g>
</svg>
</body></html>
